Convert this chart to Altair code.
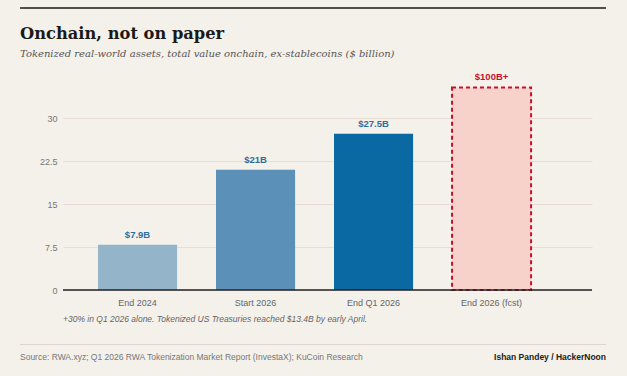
import altair as alt
import pandas as pd

categories = ["End 2024", "Start 2026", "End Q1 2026", "End 2026 (fcst)"]
values = [7.9, 21.0, 27.3, 35.4]
value_labels = ["$7.9B", "$21B", "$27.5B", "$100B+"]
is_forecast = [False, False, False, True]
bar_colors = ["#94b4ca", "#5b90b8", "#0a69a2", "#f6d2cb"]
y_ticks = [0, 7.5, 15, 22.5, 30]

title = "Onchain, not on paper"
subtitle = "Tokenized real-world assets, total value onchain, ex-stablecoins ($ billion)"
note = "+30% in Q1 2026 alone. Tokenized US Treasuries reached $13.4B by early April."
source = "Source: RWA.xyz; Q1 2026 RWA Tokenization Market Report (InvestaX); KuCoin Research"
author = "Ishan Pandey / HackerNoon"

df = pd.DataFrame({"cat": categories, "value": values, "label": value_labels, "fcst": is_forecast})

BG = "#f4f0ea"
SANS = "Liberation Sans"
SERIF = "DejaVu Serif"

xs = alt.X("cat:N", sort=categories, title=None,
           scale=alt.Scale(paddingInner=0.33, paddingOuter=0.4065, align=0.365),
           axis=alt.Axis(labelAngle=0, ticks=False, domain=False, labelFont=SANS,
                         labelFontSize=9, labelColor="#666", labelPadding=8))
ys = alt.Y("value:Q", title=None, scale=alt.Scale(domain=[0, 36], nice=False),
           axis=alt.Axis(values=y_ticks, format=".1~f", ticks=False, domain=False, grid=True,
                         gridColor="#e8dcd5", gridWidth=1, labelFont=SANS, labelFontSize=9,
                         labelColor="#777", labelPadding=6))

base = alt.Chart(df)

bars = base.transform_filter("!datum.fcst").mark_bar().encode(
    x=xs, y=ys,
    color=alt.Color("cat:N", scale=alt.Scale(domain=categories, range=bar_colors), legend=None),
)
fbar = base.transform_filter("datum.fcst").mark_bar(
    fill="#f6d2cb", stroke="#c8102e", strokeWidth=2, strokeDash=[4, 3]
).encode(x=xs, y=ys)

lab = base.transform_filter("!datum.fcst").mark_text(
    font=SANS, fontSize=9.5, fontWeight="bold", color="#2b6f9f", baseline="bottom", dy=-5
).encode(x=xs, y=ys, text="label:N")
flab = base.transform_filter("datum.fcst").mark_text(
    font=SANS, fontSize=9.5, fontWeight="bold", color="#c8102e", baseline="bottom", dy=-5
).encode(x=xs, y=ys, text="label:N")

zero = alt.Chart(pd.DataFrame({"z": [0]})).mark_rule(color="#222", strokeWidth=1.3).encode(
    y=alt.Y("z:Q", scale=alt.Scale(domain=[0, 36])))

txt = pd.DataFrame({"t": [0]})
top_rule = alt.Chart(txt).mark_rule(color="#1a1a1a", strokeWidth=1.5).encode(
    x=alt.value(-43), x2=alt.value(543), y=alt.value(-76))
sep_rule = alt.Chart(txt).mark_rule(color="#ddd6ce", strokeWidth=1).encode(
    x=alt.value(-43), x2=alt.value(543), y=alt.value(260.5))

def t(s, x, y, **kw):
    return alt.Chart(txt).mark_text(align=kw.pop("align", "left"), baseline="alphabetic", **kw).encode(
        x=alt.value(x), y=alt.value(y), text=alt.value(s))

title_t = t(title, -43, -45, font=SERIF, fontSize=16.3, fontWeight="bold", color="#1a1a1a")
sub_t = t(subtitle, -43, -27, font=SERIF, fontSize=10, fontStyle="italic", color="#555")
note_t = t(note, 0, 238, font=SANS, fontSize=8.5, fontStyle="italic", color="#666")
src_t = t(source, -43, 276, font=SANS, fontSize=8.5, color="#777")
auth_t = t(author, 543, 276, align="right", font=SANS, fontSize=8.5, fontWeight="bold", color="#222")

chart = alt.layer(bars, fbar, lab, flab, zero, top_rule, sep_rule,
                  title_t, sub_t, note_t, src_t, auth_t).properties(
    width=529, height=206,
    padding={"left": 63, "top": 84, "right": 35, "bottom": 86},
    autosize=alt.AutoSizeParams(type="none"),
    background=BG,
).configure_view(stroke=None)

chart.save("out.html", embed_options={"renderer": "svg", "actions": False})
